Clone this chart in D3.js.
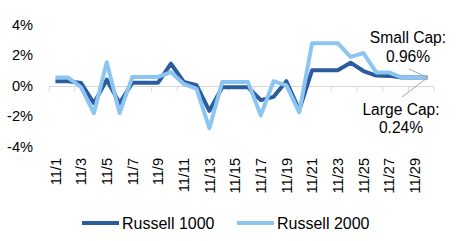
<!DOCTYPE html>
<html>
<head>
<meta charset="utf-8">
<script src="https://cdn.jsdelivr.net/npm/d3@7/dist/d3.min.js"></script>
<style>
body { margin: 0; background: #fff; }
text { font-family: "Liberation Sans", Arial, sans-serif; fill: #000; }
</style>
</head>
<body>
<div id="chart"></div>
<script>
var dates = [];
for (var d = 1; d <= 30; d++) dates.push("11/" + d);

var russell1000 = [0.3, 0.3, 0.18, -1.15, 0.4, -1.15, 0.2, 0.2, 0.2, 1.45,
	0.25, 0.03, -1.65, -0.1, -0.1, -0.1, -0.95, -0.73, 0.3, -1.6,
	1.02, 1.02, 1.02, 1.52, 0.97, 0.67, 0.65, 0.54, 0.54, 0.54];
var russell2000 = [0.54, 0.54, -0.1, -1.8, 1.55, -1.8, 0.58, 0.58, 0.58, 0.9,
	0.12, -0.2, -2.8, 0.25, 0.25, 0.25, -1.95, 0.3, 0.03, -1.75,
	2.8, 2.8, 2.8, 1.9, 2.15, 0.88, 0.88, 0.54, 0.54, 0.54];
var yTicks = [-4, -2, 0, 2, 4];

var width = 458, height = 241;
var plot = { left: 49, right: 434, top: 25, bottom: 146.5 };

var svg = d3.select("#chart").append("svg").attr("width", width).attr(
		"height", height);

var x = d3.scaleBand().domain(dates).range([ plot.left, plot.right ]);
var y = d3.scaleLinear().domain([ -4, 4 ]).range([ plot.bottom, plot.top ]);

function cx(i) {
	return x(dates[i]) + x.bandwidth() / 2;
}

// y labels
svg.selectAll(".ylab").data(yTicks).enter().append("text")
		.attr("x", 33).attr("y", function(v) {
			return y(v);
		}).attr("dy", "0.35em").attr("text-anchor", "end")
		.style("font-size", "14.6px").text(function(v) {
			return v + "%";
		});

// zero axis with tick marks every 2 categories
var zeroY = Math.round(y(0)) + 0.5;
svg.append("line").attr("x1", plot.left).attr("x2", plot.right).attr("y1",
		zeroY).attr("y2", zeroY).attr("stroke", "#d9d9d9").attr(
		"stroke-width", 1);
var tickIdx = d3.range(0, 31, 2);
svg.selectAll(".tk").data(tickIdx).enter().append("line").attr("x1",
		function(i) {
			return i < 30 ? x(dates[i]) : plot.right;
		}).attr("x2", function(i) {
	return i < 30 ? x(dates[i]) : plot.right;
}).attr("y1", zeroY).attr("y2", zeroY + 5).attr("stroke", "#d9d9d9");

// x labels (every other day), rotated
svg.selectAll(".xlab").data(dates.filter(function(v, i) {
	return i % 2 == 0;
})).enter().append("text").attr("transform", function(v) {
	return "translate(" + (x(v) + x.bandwidth() / 2) + ",158) rotate(-90)";
}).attr("dy", "0.35em").attr("text-anchor", "end").style("font-size",
		"14.6px").text(function(v) {
	return v;
});

var line = d3.line().x(function(v, i) {
	return cx(i);
}).y(function(v) {
	return y(v);
});

svg.append("path").datum(russell1000).attr("d", line).attr("fill", "none")
		.attr("stroke", "#2b5c9e").attr("stroke-width", 4).attr(
				"stroke-linejoin", "round");
svg.append("path").datum(russell2000).attr("d", line).attr("fill", "none")
		.attr("stroke", "#8dc5f2").attr("stroke-width", 4).attr(
				"stroke-linejoin", "round");

// annotations
var lastX = cx(29), lastY = y(russell2000[29]);
svg.append("line").attr("x1", 409).attr("y1", 69).attr("x2", lastX).attr(
		"y2", lastY).attr("stroke", "#a6a6a6");
svg.append("line").attr("x1", 402).attr("y1", 97).attr("x2", lastX).attr(
		"y2", lastY).attr("stroke", "#a6a6a6");

var ann = svg.append("g").style("font-size", "15.6px").attr("text-anchor",
		"middle");
ann.append("text").attr("x", 408).attr("y", 43).text("Small Cap:");
ann.append("text").attr("x", 408).attr("y", 62).text("0.96%");
ann.append("text").attr("x", 401).attr("y", 115).text("Large Cap:");
ann.append("text").attr("x", 401).attr("y", 133).text("0.24%");

// legend
var legend = [ {
	name : "Russell 1000",
	color : "#2b5c9e",
	x : 82
}, {
	name : "Russell 2000",
	color : "#8dc5f2",
	x : 237
} ];
var lg = svg.selectAll(".lg").data(legend).enter().append("g");
lg.append("line").attr("x1", function(d) {
	return d.x;
}).attr("x2", function(d) {
	return d.x + 37;
}).attr("y1", 223).attr("y2", 223).attr("stroke", function(d) {
	return d.color;
}).attr("stroke-width", 4);
lg.append("text").attr("x", function(d) {
	return d.x + 40;
}).attr("y", 229).style("font-size", "16px").text(function(d) {
	return d.name;
});
</script>
</body>
</html>
